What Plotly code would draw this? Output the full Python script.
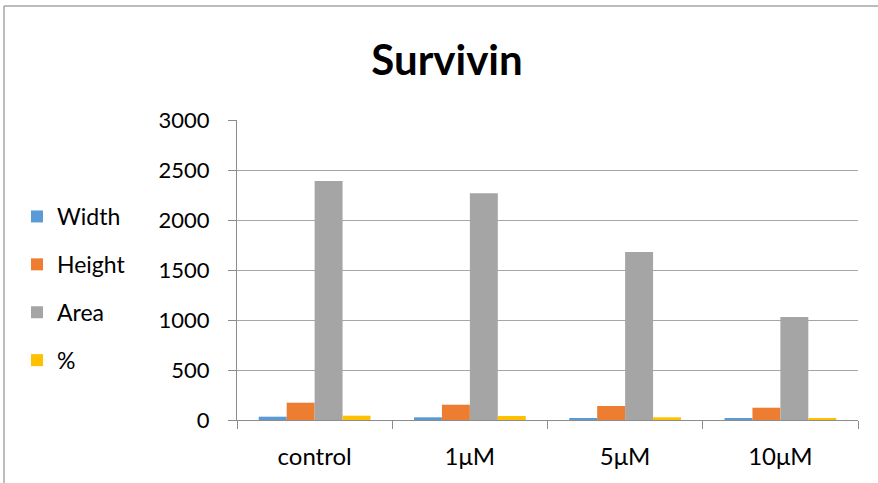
import plotly.graph_objects as go

# Survivin measurements per treatment
categories = ["control", "1μM", "5μM", "10μM"]
width_vals = [33, 27, 17, 13]
height_vals = [173, 153, 140, 123]
area_vals = [2390, 2267, 1680, 1030]
pct_vals = [43, 40, 27, 13]
series_names = ["Width", "Height", "Area", "%"]
series_colors = ["#5B9BD5", "#ED7D31", "#A5A5A5", "#FFC000"]
y_ticks = [0, 500, 1000, 1500, 2000, 2500, 3000]

W, H = 878, 483
ML, MR, MT, MB = 237, 20, 120, 63
FONT = "Lato"

fig = go.Figure()
for name, vals, col in zip(series_names,
                           [width_vals, height_vals, area_vals, pct_vals],
                           series_colors):
    fig.add_trace(go.Bar(x=categories, y=vals, name=name,
                         marker=dict(color=col, line=dict(width=0)),
                         legendgroup=name))

pw = W - ML - MR
ph = H - MT - MB


def px_x(p):
    return (p - ML) / pw


def px_y(p):
    return (H - MB - p) / ph


# chart-area frame (top and left edges)
fig.add_shape(type="line", xref="paper", yref="paper",
              x0=px_x(4), x1=px_x(878), y0=px_y(6), y1=px_y(6),
              line=dict(color="#A6A6A6", width=1.5))
fig.add_shape(type="line", xref="paper", yref="paper",
              x0=px_x(4), x1=px_x(4), y0=px_y(6), y1=px_y(483),
              line=dict(color="#A6A6A6", width=1.5))

fig.update_layout(
    width=W, height=H,
    margin=dict(l=ML, r=MR, t=MT, b=MB),
    paper_bgcolor="white", plot_bgcolor="white",
    barmode="group", bargap=0.28, bargroupgap=0,
    font=dict(family=FONT, color="#000000", size=22),
    title=dict(text="<b>Survivin</b>", x=(447) / W, xanchor="center",
               y=1 - 60 / H, yanchor="middle",
               font=dict(family=FONT, size=42, color="#000000")),
    legend=dict(x=px_x(17), xanchor="left", y=px_y(195), yanchor="top",
                font=dict(family=FONT, size=23),
                tracegroupgap=15, bgcolor="rgba(0,0,0,0)"),
    showlegend=True,
)
fig.update_xaxes(showgrid=False, showline=True, linecolor="#8C8C8C", linewidth=1,
                 ticks="outside", tickson="boundaries", ticklen=8,
                 tickcolor="#8C8C8C", tickfont=dict(family=FONT, size=24),
                 ticklabelstandoff=15, automargin=False)
fig.update_yaxes(range=[0, 3000], tickvals=y_ticks, showgrid=True,
                 gridcolor="#A6A6A6", gridwidth=1, showline=True,
                 linecolor="#8C8C8C", linewidth=1, zeroline=False,
                 ticks="outside", ticklen=8, tickcolor="#8C8C8C",
                 tickfont=dict(family=FONT, size=22), ticklabelstandoff=14,
                 automargin=False)

fig.write_html("out.html")
